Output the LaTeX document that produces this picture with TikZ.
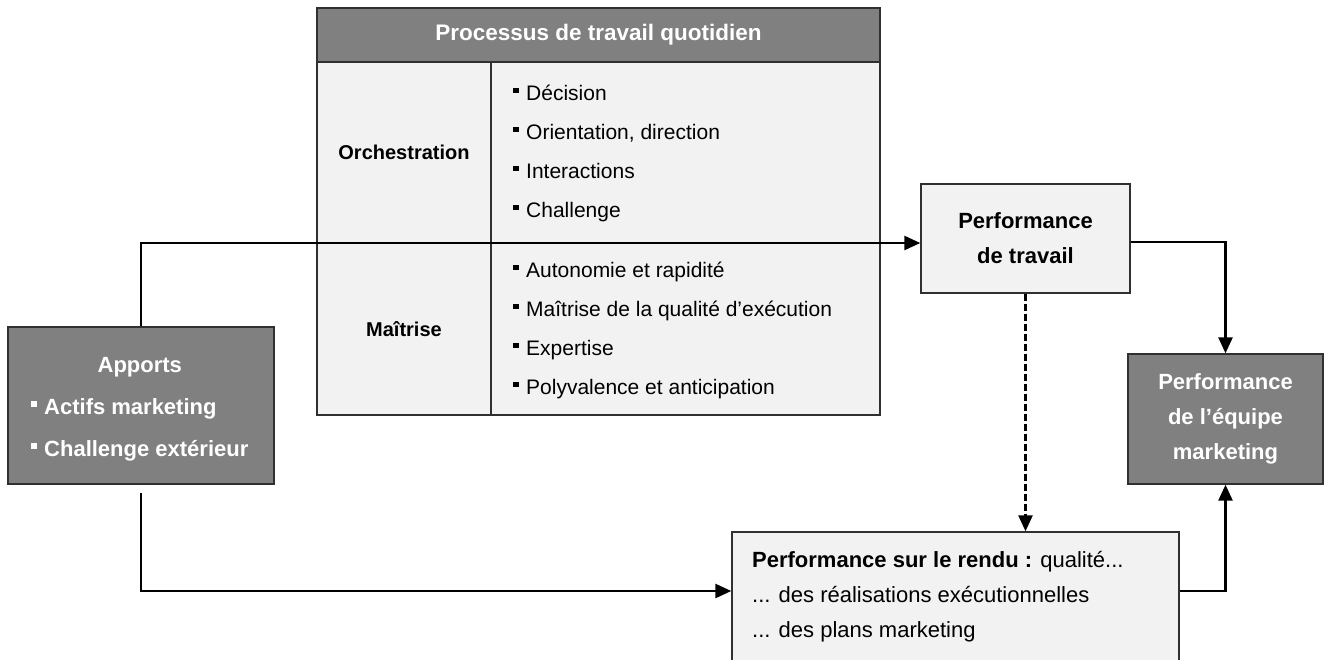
\documentclass[tikz,border=0pt]{standalone}
\usepackage{fontspec}
\setmainfont{Liberation Sans}
\usetikzlibrary{arrows.meta}
\definecolor{dk}{HTML}{808080}
\definecolor{lt}{HTML}{F2F2F2}
\definecolor{bd}{HTML}{303030}
\newcommand\bul{\raisebox{7.5pt}{\rule{5.5pt}{5.5pt}}\hspace{7.5pt}}
\begin{document}
\begin{tikzpicture}[x=1pt,y=-1pt,
  darkbox/.style={draw=bd, line width=1.4pt, fill=dk, text=white, align=center, inner sep=0pt,
    font=\bfseries\fontsize{22}{35}\selectfont},
  lightbox/.style={draw=bd, line width=1.4pt, fill=lt, inner sep=0pt, align=center},
  celltitle/.style={font=\bfseries\fontsize{20}{24}\selectfont},
  listtext/.style={align=left, inner sep=0pt, anchor=west, font=\fontsize{21}{39}\selectfont},
  conn/.style={line width=2.6pt, -{Triangle[length=16pt,width=14pt]}},
  dconn/.style={line width=2.6pt, dash pattern=on 7pt off 3pt, -{Triangle[length=16pt,width=14pt]}}]
\useasboundingbox (0,0) rectangle (1331,659);
% table
\node[darkbox, minimum width=563pt, minimum height=54pt, font=\bfseries\fontsize{22.5}{26}\selectfont] (hdr) at (598.5,35) {Processus de travail quotidien};
\node[lightbox, minimum width=174pt, minimum height=181pt, celltitle] (orch) at (404,152.5) {Orchestration};
\node[lightbox, minimum width=389pt, minimum height=181pt] (orchl) at (685.5,152.5) {};
\node[lightbox, minimum width=174pt, minimum height=172pt, celltitle] (mait) at (404,329) {Maîtrise};
\node[lightbox, minimum width=389pt, minimum height=172pt] (maitl) at (685.5,329) {};
\node[listtext] (orcht) at (513,153.5) {\bul Décision\\ \bul Orientation, direction\\ \bul Interactions\\ \bul Challenge};
\node[listtext] (maitt) at (513,330.5) {\bul Autonomie et rapidité\\ \bul Maîtrise de la qualité d’exécution\\ \bul Expertise\\ \bul Polyvalence et anticipation};
% other boxes
\node[darkbox, minimum width=266pt, minimum height=157pt] (ap) at (141,405.5) {};
\node[anchor=west, inner sep=0pt, text=white, font=\bfseries\fontsize{22}{42}\selectfont] (apt) at (31,406)
  {\begin{tabular}{@{}l@{}}\multicolumn{1}{@{}c@{}}{Apports}\\ \bul Actifs marketing\\ \bul Challenge extérieur\end{tabular}};
\node[lightbox, minimum width=209pt, minimum height=109pt, font=\bfseries\fontsize{22}{35}\selectfont] (pt) at (1025.5,238.5) {Performance\\de travail};
\node[darkbox, minimum width=195pt, minimum height=130pt] (eq) at (1225.5,419) {Performance\\de l’équipe\\marketing};
\node[lightbox, minimum width=447pt, minimum height=148pt] (rd) at (955.5,606) {};
\node[anchor=west, align=left, inner sep=0pt, font=\fontsize{22}{35}\selectfont] (rdt) at (752,597)
  {\textbf{Performance sur le rendu :} qualité...\\ ... des réalisations exécutionnelles\\ ... des plans marketing};
% connectors
\draw[conn] (ap.north) |- ([yshift=-4.5pt]pt.west);
\draw[conn] ([yshift=-3.5pt]pt.east) -| (eq.north);
\draw[dconn] (pt.south) -- (pt.south |- rd.north);
\draw[conn] ([yshift=-8pt]ap.south) |- ([yshift=15pt]rd.west);
\draw[conn] ([yshift=15pt]rd.east) -| (eq.south);
\end{tikzpicture}
\end{document}
